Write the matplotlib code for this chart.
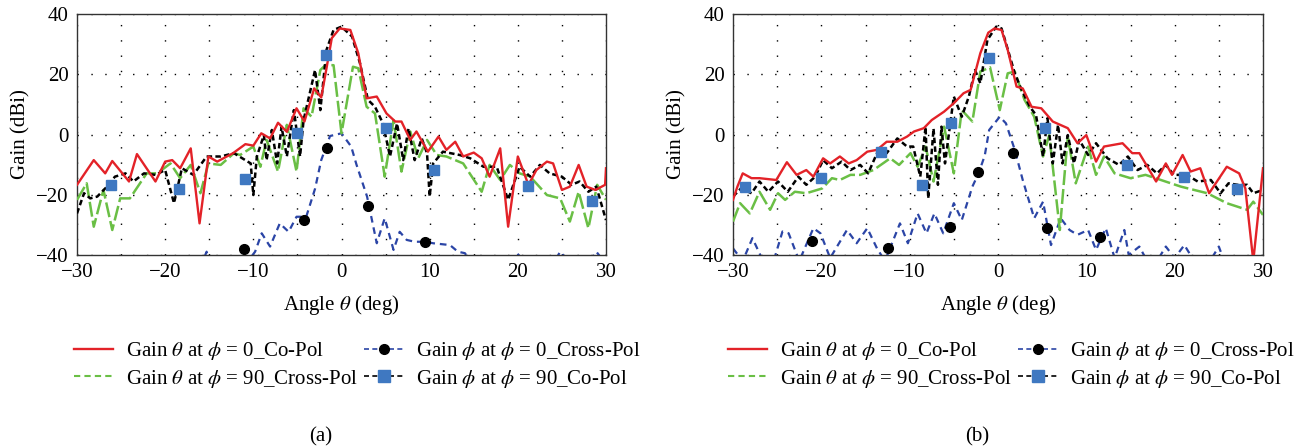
import numpy as np
import matplotlib
matplotlib.use("Agg")
import matplotlib.pyplot as plt
from matplotlib.lines import Line2D
from matplotlib.ticker import MultipleLocator

plt.rcParams["font.family"] = ["Liberation Serif", "DejaVu Serif"]
plt.rcParams["mathtext.fontset"] = "stix"

# (theta deg, gain dBi) pairs
# panel (a)
a_red = [(-30, -16.7), (-28.1, -8.5), (-26.8, -12.9), (-26, -8.8), (-24.1, -15.6), (-23.2, -6.5),
         (-21.1, -15.6), (-20, -9), (-19.2, -8.5), (-18.3, -11.2), (-17.1, -4.6), (-16.1, -29.5),
         (-15.1, -7.3), (-14.1, -9), (-12.3, -6.2), (-10.9, -3.2), (-10, -3.7), (-9.1, 0.4),
         (-8.1, -1.3), (-7.2, 3.9), (-6.2, 0.9), (-5.1, 8.7), (-4.2, 4.3), (-3.1, 15.3),
         (-2.3, 12.3), (-1.7, 22), (-1.1, 32), (-0.2, 35.2), (1.0, 34.7), (1.9, 27), (2.85, 12),
         (4, 12.6), (5.1, 7), (6.1, 4.3), (6.8, 4.3), (7.8, -1.8), (8.5, 1), (9.8, -5.7),
         (11, -0.7), (11.9, -5.1), (12.9, -2.4), (13.8, -7.3), (15, -6), (15.9, -7.9),
         (16.8, -14), (18, -4.6), (18.9, -30.6), (20, -7.3), (21.2, -16.7), (22.1, -11.8),
         (23.3, -9), (24, -9.6), (25, -18.4), (25.9, -17.3), (26.9, -10.1), (27.8, -17.3),
         (28.8, -18.4), (29.9, -16.7), (30, -11.2)]
a_green = [(-30, -21.7), (-28.9, -16.2), (-28.1, -30.6), (-27, -18.4), (-26, -31.7), (-25.1, -21.2),
           (-24, -21.2), (-22.1, -12.9), (-20.9, -12.9), (-19.4, -9.6), (-18.3, -14.5), (-17.1, -10.1),
           (-16, -19.5), (-15.1, -9.6), (-13.7, -10.1), (-12.2, -6.2), (-11.5, -6.8), (-10, -4),
           (-9.2, -10.7), (-8.5, -1.8), (-7.2, -12.3), (-6.2, 3.2), (-5.1, -12.3), (-4.3, 8.7),
           (-3.4, 5.9), (-2.4, 21.4), (-1.8, 23.1), (-0.9, 23), (0, 0.4), (1.3, 22.5), (1.9, 22),
           (2.85, 9.2), (3.8, 7), (4.9, -14), (5.9, 4.8), (6.8, -12.3), (7.8, 1), (8.7, -7.9),
           (9.7, -1.8), (10.8, -6.8), (11.9, -7.3), (13.8, -9.6), (15.9, -19), (16.8, -10.1),
           (18, -15.1), (19.1, -10.1), (20.2, -12.9), (21.4, -14), (23.3, -20.1), (24.8, -21.2),
           (25.9, -28.9), (26.9, -19), (28, -31.1), (29, -16.7), (30, -21.7)]
a_black = [(-30, -26.2), (-29.2, -19.5), (-28.5, -21.2), (-27.7, -20.6), (-26.6, -17.3), (-25.7, -14),
           (-24.5, -12.9), (-23.6, -15.6), (-22.4, -12.9), (-21.1, -13.4), (-20, -11.8), (-19, -22.8),
           (-18.1, -11.2), (-16.8, -13.4), (-15.3, -7.3), (-13.7, -7.3), (-12.2, -6.2), (-10.3, -9.6),
           (-10, -20.1), (-9.6, -7.3), (-8.8, -0.2), (-8.5, -8.5), (-7.9, 1.5), (-7.3, -9.6),
           (-6.8, 2.6), (-6.2, -7.3), (-5.4, 8.1), (-4.7, -7.3), (-4.3, 4.8), (-3.6, 13.7),
           (-3, 21.4), (-2.4, 8.1), (-1.7, 28.1), (-0.9, 34.7), (0, 35.8), (1.2, 32.5), (2.1, 23.6),
           (3, 11.5), (3.8, 9.2), (4.7, 3.7), (5.5, -7.3), (6.3, 3.7), (7, -8.5), (7.6, 2),
           (8.3, -8.5), (9.1, -1.3), (9.7, -6.2), (10, -20.6), (10.4, -9.6), (11.5, -5.7),
           (13.4, -6.8), (14.6, -7.9), (16.1, -10.7), (17.6, -10.7), (18.9, -21.7), (20.2, -10.7),
           (21.4, -14), (22.5, -10.1), (23.6, -12.9), (25, -14), (26.1, -16.7), (27, -15.6),
           (28, -19), (28.9, -17.3), (30, -28.4)]
a_blue = [(-16, -44), (-15.3, -38.9), (-14.8, -44), (-13, -42), (-12, -44), (-10.6, -42),
          (-9.8, -38.9), (-9.05, -32.8), (-8.1, -37.2), (-7, -29.5), (-6, -32.3), (-5.1, -27.3),
          (-4, -27.3), (-3, -18), (-2.3, -8.5), (-1.3, -0.5), (0, 0.4), (1.1, -4), (1.7, -10),
          (2.9, -20.6), (4, -36.1), (4.9, -27.8), (5.9, -38.3), (6.6, -32.3), (7.4, -35),
          (8.3, -35.6), (9.5, -35.6), (10.4, -36.1), (12.3, -36.7), (13.2, -38.9), (14, -39.4),
          (15, -44), (18.5, -43), (19.9, -39.4), (21, -43), (24, -43), (24.8, -38.9), (26, -43),
          (28, -43), (28.9, -38.9), (30, -43)]
a_squares = [(-26.1, -16.7), (-18.4, -18.2), (-10.9, -14.8), (-5.1, 0.4), (-1.8, 26.4),
             (5, 2), (10.5, -11.8), (21.2, -17), (28.4, -22.1)]
a_dots = [(-11.1, -38.1), (-4.3, -28.4), (-1.6, -4.4), (3, -23.6), (9.5, -35.7)]

# panel (b)
b_red = [(-30, -21.7), (-29.5, -17.3), (-28.9, -12.9), (-27.9, -14.5), (-27, -14.5), (-25.1, -15.1),
         (-23.9, -9.2), (-22.8, -13.4), (-21.7, -11.8), (-20.9, -14), (-19.8, -7.9), (-19, -9.6),
         (-17.9, -7.3), (-16.9, -9.6), (-16, -8.5), (-14.8, -5.7), (-13.7, -5.1), (-12.6, -2.4),
         (-11.4, -2.4), (-10.3, -0.7), (-9.5, 1), (-8.4, 2.1), (-7.5, 4.8), (-6.1, 7.6),
         (-5, 10.4), (-3.9, 13.7), (-3.1, 14.8), (-2, 27), (-1.1, 33.8), (-0.4, 35.2), (0.4, 34.7),
         (1.1, 28.1), (2.1, 15.9), (2.8, 15.3), (3.8, 9.2), (4.9, 8.7), (6.2, 4.3), (7.9, 2.1),
         (9, -2.9), (10, -0.2), (11.1, -9), (12, -4), (14.1, -2.9), (15.2, -6.2), (16, -6.2),
         (17.9, -15.6), (19, -9.6), (19.7, -13.4), (20.9, -6.8), (21.8, -12.3), (22.9, -11.2),
         (23.9, -19.5), (25.9, -10.7), (27.3, -12.9), (28, -17.9), (28.9, -42), (30, -11.2)]
b_green = [(-30, -28.9), (-29.2, -22.8), (-28.1, -26.2), (-27, -19), (-25.8, -25), (-24.9, -19.5),
           (-24.1, -21.7), (-23, -19), (-21.7, -19.5), (-19.9, -17.9), (-18.8, -14.5), (-17.9, -15.1),
           (-16.7, -13.4), (-15.6, -13.4), (-14.1, -11.8), (-12.2, -7.9), (-11.2, -10.1), (-9.9, -6.2),
           (-9.1, -10.7), (-8.2, -4), (-7.3, -15.6), (-6.1, 2.6), (-5, -12.9), (-4.1, 8.1),
           (-2.9, 4.3), (-2, 20.9), (-0.9, 22.3), (0.2, 8.1), (1.1, 20.3), (1.9, 20.9), (3, 11.5),
           (4.1, 5.9), (5.1, -7.3), (5.8, -0.2), (7, -31.7), (7.9, -0.7), (8.8, -16.2), (10.2, -4),
           (11.1, -13.4), (12, -7.3), (13.2, -12.9), (15, -14.5), (16.7, -13.4), (20.7, -17.3),
           (23.7, -19.5), (25.9, -22.8), (28.2, -25), (28.9, -22.3), (30, -26.7)]
b_black = [(-30, -20.6), (-29.1, -17.9), (-27.9, -19.5), (-27, -15.6), (-26, -19), (-24.9, -15.6),
           (-23.8, -19), (-22.6, -14), (-21.7, -16.7), (-20.7, -14), (-19.8, -8.5), (-18.8, -11.2),
           (-17.7, -9), (-16.7, -11.8), (-15.6, -10.1), (-14.7, -12.9), (-13.7, -6.2), (-12.6, -6.2),
           (-11.4, -1.3), (-10.3, -4), (-9.6, -4), (-8.8, -14), (-8.2, 2.6), (-7.9, -21.2),
           (-7.3, 2), (-6.8, -16.7), (-6.4, 2.6), (-6, -9.6), (-5, 12.6), (-4.1, 5.9), (-3.3, 12.6),
           (-2.6, 21.4), (-2, 17), (-1.2, 31.4), (-0.2, 35.8), (0.4, 35.2), (0.9, 30.3), (1.9, 20.3),
           (2.6, 15.3), (3.6, 9.2), (4.3, 6.5), (5.1, -7.3), (5.6, 5.4), (6.2, -9.6), (6.8, 3.2),
           (7.3, -9.6), (7.9, -0.2), (8.6, -9.6), (9.2, -1.8), (10.2, -6.8), (11.1, -2.9),
           (12.4, -7.9), (13.7, -10.1), (14.7, -7.3), (15.8, -11.8), (16.9, -10.1), (18, -12.9),
           (19, -10.1), (19.9, -13.4), (21.4, -13.4), (22.6, -15.6), (24.1, -15.1), (25.2, -19.5),
           (26.1, -16.2), (27.1, -16.7), (28.2, -16.7), (28.9, -19.5), (30, -18.4)]
b_blue = [(-30, -37.8), (-28.9, -42), (-27.8, -34.4), (-26.6, -42), (-25.5, -43), (-24.4, -32.2),
          (-23.7, -32.8), (-22.5, -42), (-20.9, -31.1), (-20.1, -32.8), (-19, -41), (-17.1, -31.7),
          (-16, -36.1), (-14.8, -31.1), (-13.7, -37.8), (-12.8, -42), (-11.1, -29.5), (-10.2, -36.1),
          (-9.1, -26.2), (-8.1, -32.8), (-7.2, -26.2), (-6.2, -32.8), (-5, -22.8), (-4.1, -28.4),
          (-2.9, -17.3), (-2.2, -12.9), (-1.5, -7), (-1, 1.5), (0.2, 5.9), (0.9, 3.7), (1.9, -5.1),
          (2.8, -15.1), (4.1, -27.8), (5.1, -22.3), (6, -36.7), (7.1, -27.8), (8.1, -31.7),
          (9, -33.3), (10.2, -31.7), (11.1, -38.3), (12.2, -31.1), (13.2, -41), (14.3, -31.7),
          (14.8, -40), (16, -37.2), (16.7, -41), (18, -42), (19, -37.2), (20, -41), (21.1, -36.7),
          (22, -41), (24, -42), (25, -37.2), (25.6, -42), (30, -43)]
b_squares = [(-28.6, -17.3), (-20, -14.5), (-13.2, -5.9), (-8.6, -16.7), (-5.3, 3.7), (-1.05, 25.3),
             (5.3, 2.3), (14.6, -10.1), (21, -14), (27, -18.2)]
b_dots = [(-21.1, -35.2), (-12.5, -37.8), (-5.4, -30.6), (-2.3, -12.3), (1.7, -6.2), (5.5, -31.1),
          (11.6, -33.9)]

labels = [r"Gain $\theta$ at $\phi$ = 0_Co-Pol",
          r"Gain $\theta$ at $\phi$ = 90_Cross-Pol",
          r"Gain $\phi$ at $\phi$ = 0_Cross-Pol",
          r"Gain $\phi$ at $\phi$ = 90_Co-Pol"]

RED = "#e32228"
GREEN = "#6abf45"
BLUE = "#2b45a6"
SQ = "#3f78c1"

fig = plt.figure(figsize=(13.07, 4.48), dpi=100)
ax_a = fig.add_axes([77 / 1307, 1 - 255 / 448, 529 / 1307, 241 / 448])
ax_b = fig.add_axes([733 / 1307, 1 - 255 / 448, 530 / 1307, 241 / 448])


def draw(ax, red, green, black, blue, squares, dots, tag, leg_x):
    r = np.array(red).T
    g = np.array(green).T
    k = np.array(black).T
    b = np.array(blue).T
    s = np.array(squares).T
    d = np.array(dots).T
    ax.plot(b[0], b[1], color=BLUE, lw=1.6, dashes=(3, 2.2), zorder=2)
    ax.plot(g[0], g[1], color=GREEN, lw=1.8, dashes=(6, 1.6), zorder=3)
    ax.plot(k[0], k[1], color="black", lw=1.8, dashes=(2.2, 1.3), zorder=4)
    ax.plot(r[0], r[1], color=RED, lw=1.7, zorder=5)
    ax.plot(s[0], s[1], ls="none", marker="s", ms=7.5, color=SQ, zorder=6)
    ax.plot(d[0], d[1], ls="none", marker="o", ms=7, color="black", zorder=6)

    ax.set_xlim(-30, 30)
    ax.set_ylim(-40, 40)
    ax.xaxis.set_major_locator(MultipleLocator(10))
    ax.xaxis.set_minor_locator(MultipleLocator(5))
    ax.yaxis.set_major_locator(MultipleLocator(20))
    ax.grid(True, which="major", axis="y", color="black", lw=1.0, ls=(0, (1, 9)))
    ax.grid(True, which="both", axis="x", color="black", lw=1.0, ls=(0, (1, 10)))
    ax.tick_params(which="both", length=0, labelsize=15, pad=6)
    for sp in ax.spines.values():
        sp.set_color("#333333")
        sp.set_linewidth(1.0)
    ax.set_xlabel(r"Angle $\theta$ (deg)", fontsize=15, labelpad=8)
    ax.set_ylabel("Gain (dBi)", fontsize=15, labelpad=4)

    handles = [Line2D([], [], color=RED, lw=1.7),
               Line2D([], [], color=GREEN, lw=1.5, dashes=(3, 2)),
               Line2D([], [], color=BLUE, lw=1.2, dashes=(3, 2), marker="o", ms=7, mfc="black", mec="black"),
               Line2D([], [], color="black", lw=1.2, dashes=(3, 2), marker="s", ms=8, mfc=SQ, mec=SQ)]
    fig.legend(handles, labels, loc="center", bbox_to_anchor=(leg_x, 1 - 365 / 448), ncol=2,
               frameon=False, fontsize=15, handlelength=1.9, handletextpad=0.6,
               columnspacing=0.3, labelspacing=0.25)
    fig.text(ax.get_position().x0 + ax.get_position().width * 0.46, 1 - 437 / 448, tag,
             ha="center", va="center", fontsize=15)


draw(ax_a, a_red, a_green, a_black, a_blue, a_squares, a_dots, "(a)", 357 / 1307)
draw(ax_b, b_red, b_green, b_black, b_blue, b_squares, b_dots, "(b)", 1011 / 1307)

fig.savefig("out.png", dpi=100)
